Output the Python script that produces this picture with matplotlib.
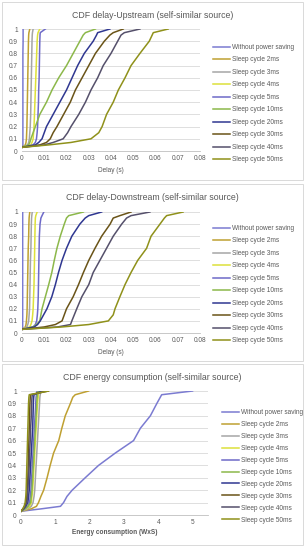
import matplotlib
matplotlib.use('Agg')
import matplotlib.pyplot as plt
from matplotlib.patches import Rectangle

plt.rcParams['font.family'] = ['Liberation Sans', 'DejaVu Sans']

# ── Data ──────────────────────────────────────────────────────────────────────
labels = ['Without power saving', 'Sleep cycle 2ms', 'Sleep cycle 3ms', 'Sleep cycle 4ms',
          'Sleep cycle 5ms', 'Sleep cycle 10ms', 'Sleep cycle 20ms', 'Sleep cycle 30ms',
          'Sleep cycle 40ms', 'Sleep cycle 50ms']
colors = ['#7B7BD1', '#BFA031', '#A5A5A5', '#DDE03A', '#6E6AC8',
          '#8CB84A', '#2F3791', '#6A5418', '#55506B', '#8F911A']

# cumulative probability levels shared by every curve
cdf = [0.03, 0.05, 0.07, 0.1, 0.15, 0.2, 0.3, 0.4, 0.5, 0.6, 0.7, 0.8, 0.9, 0.95, 0.97, 1.0]

# delay upstream (s)
up_none = [0, 0.0004, 0.0004, 0.0004, 0.0004, 0.0004, 0.0004, 0.0004, 0.0004, 0.0004, 0.0004, 0.0004, 0.0005, 0.0005, 0.0005, 0.0005]
up_2 = [0, 0.0015, 0.0018, 0.002, 0.0021, 0.0022, 0.0023, 0.0024, 0.0025, 0.0026, 0.0027, 0.0028, 0.0029, 0.003, 0.0031, 0.0035]
up_3 = [0, 0.0025, 0.003, 0.0033, 0.0035, 0.0037, 0.0039, 0.004, 0.0041, 0.0042, 0.0043, 0.0044, 0.0045, 0.0046, 0.0047, 0.005]
up_4 = [0, 0.004, 0.0045, 0.005, 0.0052, 0.0054, 0.0056, 0.0058, 0.006, 0.0062, 0.0064, 0.0066, 0.0068, 0.007, 0.0072, 0.008]
up_5 = [0, 0.005, 0.006, 0.0065, 0.0068, 0.007, 0.0072, 0.0074, 0.0075, 0.0077, 0.0078, 0.0079, 0.008, 0.0081, 0.0082, 0.0105]
up_10 = [0, 0.003, 0.0035, 0.004, 0.005, 0.006, 0.008, 0.011, 0.0135, 0.0165, 0.02, 0.023, 0.026, 0.0275, 0.0285, 0.033]
up_20 = [0, 0.006, 0.0075, 0.009, 0.01, 0.011, 0.014, 0.017, 0.02, 0.0225, 0.025, 0.028, 0.032, 0.0335, 0.034, 0.0395]
up_30 = [0, 0.008, 0.011, 0.0127, 0.014, 0.0157, 0.0187, 0.0217, 0.024, 0.027, 0.03, 0.033, 0.037, 0.0395, 0.041, 0.0455]
up_40 = [0, 0.01, 0.014, 0.0185, 0.0205, 0.022, 0.0255, 0.0285, 0.031, 0.034, 0.0365, 0.04, 0.043, 0.0445, 0.046, 0.053]
up_50 = [0, 0.012, 0.022, 0.031, 0.0345, 0.036, 0.038, 0.041, 0.0433, 0.0463, 0.049, 0.053, 0.0572, 0.0585, 0.059, 0.0657]

# delay downstream (s)
dn_none = [0, 0.0003, 0.0003, 0.0003, 0.0003, 0.0003, 0.0003, 0.0003, 0.0003, 0.0003, 0.0003, 0.0003, 0.0003, 0.0003, 0.0003, 0.0003]
dn_2 = [0, 0.0015, 0.0018, 0.002, 0.0022, 0.0023, 0.0024, 0.0025, 0.0026, 0.0027, 0.0028, 0.003, 0.0031, 0.0032, 0.0033, 0.0035]
dn_3 = [0, 0.0022, 0.0026, 0.003, 0.0032, 0.0034, 0.0035, 0.0036, 0.0037, 0.0038, 0.004, 0.0041, 0.0042, 0.0043, 0.0044, 0.0046]
dn_4 = [0, 0.0035, 0.004, 0.0045, 0.0048, 0.005, 0.0052, 0.0054, 0.0055, 0.0056, 0.0057, 0.0058, 0.0059, 0.006, 0.0062, 0.0068]
dn_5 = [0, 0.005, 0.006, 0.0066, 0.0069, 0.0071, 0.0073, 0.0074, 0.0075, 0.0076, 0.0077, 0.0078, 0.0081, 0.0085, 0.009, 0.0098]
dn_10 = [0, 0.005, 0.0065, 0.008, 0.0085, 0.009, 0.0105, 0.012, 0.0134, 0.0145, 0.0157, 0.0172, 0.019, 0.02, 0.021, 0.0276]
dn_20 = [0, 0.0055, 0.007, 0.0082, 0.0097, 0.0112, 0.0134, 0.015, 0.0164, 0.018, 0.02, 0.0224, 0.026, 0.0284, 0.03, 0.0358]
dn_30 = [0, 0.01, 0.015, 0.018, 0.019, 0.02, 0.023, 0.0254, 0.0276, 0.03, 0.0328, 0.0358, 0.0396, 0.041, 0.044, 0.049]
dn_40 = [0, 0.016, 0.0218, 0.0224, 0.0235, 0.0246, 0.0269, 0.03, 0.032, 0.035, 0.038, 0.041, 0.0448, 0.047, 0.049, 0.0575]
dn_50 = [0, 0.018, 0.03, 0.0388, 0.041, 0.0418, 0.044, 0.0463, 0.049, 0.052, 0.056, 0.058, 0.062, 0.064, 0.065, 0.0724]

# energy consumption (WxS)
en_none = [0, 0.6, 1.15, 1.24, 1.34, 1.49, 1.87, 2.26, 2.75, 3.28, 3.48, 3.77, 3.96, 4.06, 4.1, 5.0]
en_2 = [0, 0.3, 0.45, 0.51, 0.58, 0.66, 0.76, 0.85, 0.95, 1.1, 1.19, 1.29, 1.44, 1.51, 1.58, 1.97]
en_3 = [0, 0.2, 0.3, 0.35, 0.38, 0.4, 0.42, 0.44, 0.46, 0.48, 0.5, 0.52, 0.54, 0.55, 0.56, 0.58]
en_4 = [0, 0.15, 0.25, 0.3, 0.32, 0.34, 0.36, 0.38, 0.4, 0.42, 0.44, 0.46, 0.48, 0.5, 0.5, 0.52]
en_5 = [0, 0.12, 0.2, 0.25, 0.27, 0.29, 0.31, 0.33, 0.35, 0.37, 0.39, 0.41, 0.43, 0.44, 0.45, 0.47]
en_10 = [0, 0.1, 0.2, 0.28, 0.3, 0.32, 0.34, 0.36, 0.38, 0.4, 0.42, 0.44, 0.46, 0.47, 0.48, 0.5]
en_20 = [0, 0.08, 0.14, 0.2, 0.22, 0.24, 0.26, 0.28, 0.3, 0.32, 0.34, 0.35, 0.36, 0.37, 0.38, 0.6]
en_30 = [0, 0.06, 0.1, 0.15, 0.17, 0.18, 0.2, 0.21, 0.22, 0.23, 0.24, 0.25, 0.26, 0.27, 0.28, 0.8]
en_40 = [0, 0.07, 0.12, 0.17, 0.19, 0.2, 0.22, 0.24, 0.25, 0.27, 0.28, 0.3, 0.31, 0.32, 0.33, 0.7]
en_50 = [0, 0.05, 0.09, 0.12, 0.14, 0.15, 0.16, 0.17, 0.18, 0.19, 0.2, 0.21, 0.22, 0.23, 0.24, 0.8]

up_series = [up_none, up_2, up_3, up_4, up_5, up_10, up_20, up_30, up_40, up_50]
dn_series = [dn_none, dn_2, dn_3, dn_4, dn_5, dn_10, dn_20, dn_30, dn_40, dn_50]
en_series = [en_none, en_2, en_3, en_4, en_5, en_10, en_20, en_30, en_40, en_50]

delay_ticks = [0, 0.01, 0.02, 0.03, 0.04, 0.05, 0.06, 0.07, 0.08]
delay_ticklabels = ['0', '0.01', '0.02', '0.03', '0.04', '0.05', '0.06', '0.07', '0.08']
energy_ticks = [0, 1, 2, 3, 4, 5]
y_ticks = [0, 0.1, 0.2, 0.3, 0.4, 0.5, 0.6, 0.7, 0.8, 0.9, 1]
y_ticklabels = ['0', '0.1', '0.2', '0.3', '0.4', '0.5', '0.6', '0.7', '0.8', '0.9', '1']

# ── Figure ────────────────────────────────────────────────────────────────────
W, H = 305, 550
fig = plt.figure(figsize=(W / 100, H / 100), dpi=100)
fig.patch.set_facecolor('white')

TXT = '#595959'
FS = 4.7


def px_axes(x0, x1, ytop, ybot):
    return fig.add_axes([x0 / W, 1 - ybot / H, (x1 - x0) / W, (ybot - ytop) / H])


def panel(box, axbox, series, xlim, xticks, xticklabels, title, xlabel, leg_xy, leg_sp, title_y, xlabel_y):
    # chart-area border
    bx0, by0, bx1, by1 = box
    fig.patches.append(Rectangle((bx0 / W, 1 - by1 / H), (bx1 - bx0) / W, (by1 - by0) / H,
                                 transform=fig.transFigure, fill=False,
                                 edgecolor='#D9D9D9', linewidth=0.7))
    ax = px_axes(*axbox)
    for vals, lab, col in zip(series, labels, colors):
        ax.plot(vals, cdf, color=col, lw=1.1, label=lab, solid_joinstyle='round')
    ax.set_xlim(*xlim)
    ax.set_ylim(0, 1)
    ax.set_xticks(xticks)
    ax.set_xticklabels(xticklabels)
    ax.set_yticks(y_ticks)
    ax.set_yticklabels(y_ticklabels)
    ax.tick_params(length=0, labelsize=FS, colors=TXT, pad=3)
    ax.grid(axis='y', color='#D9D9D9', lw=0.6)
    ax.set_axisbelow(True)
    for s in ['top', 'right', 'left']:
        ax.spines[s].set_visible(False)
    ax.spines['bottom'].set_color('#BFBFBF')
    ax.spines['bottom'].set_linewidth(0.6)
    fig.text(((box[0] + box[2]) / 2) / W, 1 - title_y / H, title, ha='center', va='center',
             fontsize=6.3, color=TXT)
    fig.text(((axbox[0] + axbox[1]) / 2) / W, 1 - xlabel_y / H, xlabel, ha='center', va='center',
             fontsize=FS, color=TXT, fontweight='bold' if 'Energy' in xlabel else 'normal')
    ax.legend(loc='upper left', bbox_to_anchor=(leg_xy[0] / W, 1 - leg_xy[1] / H),
              bbox_transform=fig.transFigure, frameon=False, fontsize=FS,
              handlelength=2.6, handletextpad=0.3, labelspacing=leg_sp, borderaxespad=0,
              borderpad=0, labelcolor=TXT)
    return ax


panel((2, 2, 303, 180), (22, 200, 29, 151), up_series, (0, 0.08), delay_ticks, delay_ticklabels,
      'CDF delay-Upstream (self-similar source)', 'Delay (s)', (213, 44), 0.84, 15, 170)
panel((2, 184, 303, 361), (22, 200, 212, 333), dn_series, (0, 0.08), delay_ticks, delay_ticklabels,
      'CDF delay-Downstream (self-similar source)', 'Delay (s)', (213, 225), 0.84, 197, 352)
panel((2, 364, 303, 545), (21, 208, 391, 515), en_series, (0, 5.45), energy_ticks,
      [str(t) for t in energy_ticks],
      'CDF energy consumption (self-similar source)', 'Energy consumption (WxS)', (222, 409), 0.76, 377, 533)

fig.savefig('out.png', dpi=100, facecolor='white')
